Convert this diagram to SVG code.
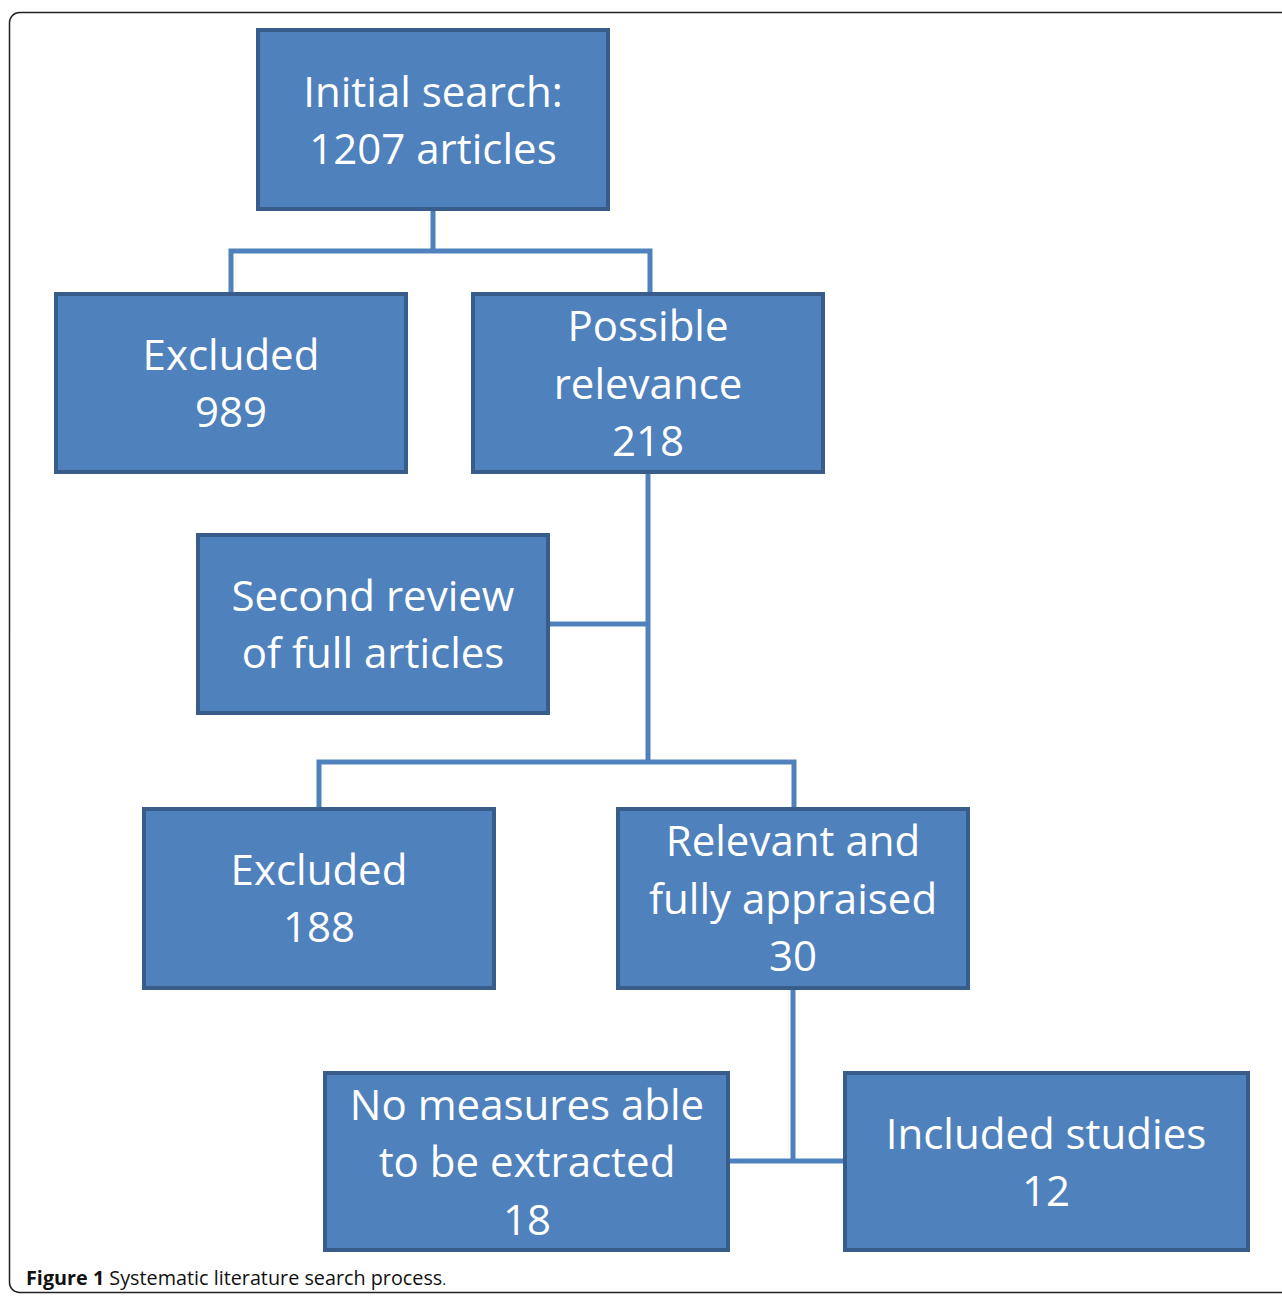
<svg xmlns="http://www.w3.org/2000/svg" width="1282" height="1296" viewBox="0 0 1282 1296">
<style>
.box{fill:#4F81BD;stroke:#385D8A;stroke-width:4}
.t{font-family:"Open Sans","Noto Sans",sans-serif;font-size:42px;fill:#fff;text-anchor:middle}
.c{fill:none;stroke:#4F81BD;stroke-width:5}
.cap{font-family:"Open Sans","Noto Sans",sans-serif;font-size:19.8px;fill:#111}
</style>
<rect width="1282" height="1296" fill="#fff"/>
<rect x="9.5" y="12.5" width="1300" height="1280" rx="10" fill="none" stroke="#222" stroke-width="1.5"/>
<g id="connectors">
<path class="c" d="M433 209V251M231 294V251H650V294"/>
<path class="c" d="M648 472V762M548 624H648M319 809V762H794V809"/>
<path class="c" d="M793 988V1161M728 1161H845"/>
</g>
<g id="n1"><rect class="box" x="258" y="30" width="350" height="179"/>
<text class="t" x="433" y="107">Initial search:</text><text class="t" x="433" y="164">1207 articles</text></g>
<g id="n2"><rect class="box" x="56" y="294" width="350" height="178"/>
<text class="t" x="231" y="370">Excluded</text><text class="t" x="231" y="427">989</text></g>
<g id="n3"><rect class="box" x="473" y="294" width="350" height="178"/>
<text class="t" x="648" y="341">Possible</text><text class="t" x="648" y="399">relevance</text><text class="t" x="648" y="456">218</text></g>
<g id="n4"><rect class="box" x="198" y="535" width="350" height="178"/>
<text class="t" x="373" y="611">Second review</text><text class="t" x="373" y="668">of full articles</text></g>
<g id="n5"><rect class="box" x="144" y="809" width="350" height="179"/>
<text class="t" x="319" y="885">Excluded</text><text class="t" x="319" y="942">188</text></g>
<g id="n6"><rect class="box" x="618" y="809" width="350" height="179"/>
<text class="t" x="793" y="856">Relevant and</text><text class="t" x="793" y="914">fully appraised</text><text class="t" x="793" y="971">30</text></g>
<g id="n7"><rect class="box" x="325" y="1073" width="403" height="177"/>
<text class="t" x="527" y="1120">No measures able</text><text class="t" x="527" y="1177">to be extracted</text><text class="t" x="527" y="1235">18</text></g>
<g id="n8"><rect class="box" x="845" y="1073" width="403" height="177"/>
<text class="t" x="1046" y="1149">Included studies</text><text class="t" x="1046" y="1206">12</text></g>
<text class="cap" x="26" y="1285"><tspan font-weight="bold">Figure 1</tspan> Systematic literature search process<tspan font-size="15">.</tspan></text>
</svg>
